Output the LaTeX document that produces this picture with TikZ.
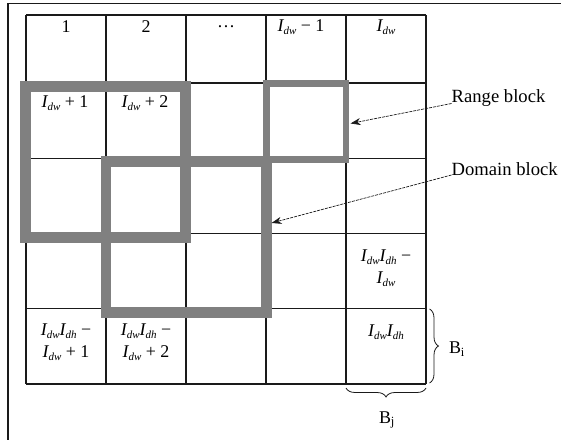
\documentclass[tikz,border=0pt]{standalone}
\usepackage{fontspec}
\setmainfont{Liberation Serif}
\usetikzlibrary{arrows.meta,decorations.pathreplacing}
\definecolor{blockgray}{HTML}{808080}
\definecolor{inkline}{HTML}{1A1A1A}
\newcommand\Idw{\textit{I}\kern-0.6pt\raisebox{-0.35ex}{\fontsize{11}{11}\selectfont\textit{dw}}}
\newcommand\Idh{\textit{I}\kern-0.6pt\raisebox{-0.35ex}{\fontsize{11}{11}\selectfont\textit{dh}}}
\begin{document}
\begin{tikzpicture}[x=1bp,y=-1bp,
  gridline/.style={line width=1.2bp, draw=inkline},
  frameline/.style={line width=1.4bp, draw=inkline},
  blk/.style={draw=blockgray, line join=miter},
  cell/.style={inner sep=0pt, font=\fontsize{18}{22}\selectfont, align=center},
  lab/.style={inner sep=0pt, font=\fontsize{18.7}{22}\selectfont, anchor=west},
  pointer/.style={line width=0.7bp, draw=inkline, dash pattern=on 3bp off 1bp, -{Stealth[length=10bp,width=7bp,inset=3bp]}},
  bracepath/.style={line width=0.8bp, draw=inkline, decorate, decoration={brace, amplitude=9bp}}
]
\useasboundingbox (0,0) rectangle (561,440);
% outer frame (top and left edges visible)
\draw[frameline] (8,440) -- (8,3.5) -- (561,3.5);
% grid
\foreach \y in {15,83,158.3,233.3,308.3,384}
  \draw[gridline] (26,\y) -- (426,\y);
\foreach \x in {26,106,186,266,346,426}
  \draw[gridline] (\x,15) -- (\x,384);
% blocks
\draw[blk, line width=10.7bp] (25.3,86.5) rectangle (185.5,237.5);
\draw[blk, line width=10.7bp] (106,161.7) rectangle (266.3,312.8);
\draw[blk, line width=6.7bp] (266.7,83.5) rectangle (346,159.3);
% cell texts
\node[cell] (c11) at (66,27) {1};
\node[cell] (c12) at (146,27) {2};
\node[cell] (c13) at (226,27) {\dots};
\node[cell] (c14) at (301,27) {\Idw{} − 1};
\node[cell] (c15) at (386,27) {\Idw};
\node[cell] (c21) at (65,103) {\Idw{} + 1};
\node[cell] (c22) at (145,103) {\Idw{} + 2};
\node[cell] (c45) at (386,268) {\Idw\Idh{} −\\\Idw};
\node[cell] (c51) at (66,342.5) {\Idw\Idh{} −\\\Idw{} + 1};
\node[cell] (c52) at (146,342.5) {\Idw\Idh{} −\\\Idw{} + 2};
\node[cell] (c55) at (386,332.5) {\Idw\Idh};
% labels and pointers
\node[lab] (rl) at (451.5,98) {Range block};
\node[lab] (dl) at (451.5,169.5) {Domain block};
\coordinate (rtip) at (350.5,123.5);
\coordinate (dtip) at (271.5,223);
\draw[pointer] ([yshift=-5.5bp]rl.west) -- (rtip);
\draw[pointer] ([yshift=-5.5bp]dl.west) -- (dtip);
% braces
\coordinate (bi1) at (429.5,309);
\coordinate (bi2) at (429.5,383);
\coordinate (bj1) at (426,388);
\coordinate (bj2) at (346,388);
\draw[bracepath] (bi1) -- (bi2);
\draw[bracepath] (bj1) -- (bj2);
\node[cell] (bi) at (457,349) {B\textsubscript{i}};
\node[cell] (bj) at (387,420) {B\textsubscript{j}};
\end{tikzpicture}
\end{document}
